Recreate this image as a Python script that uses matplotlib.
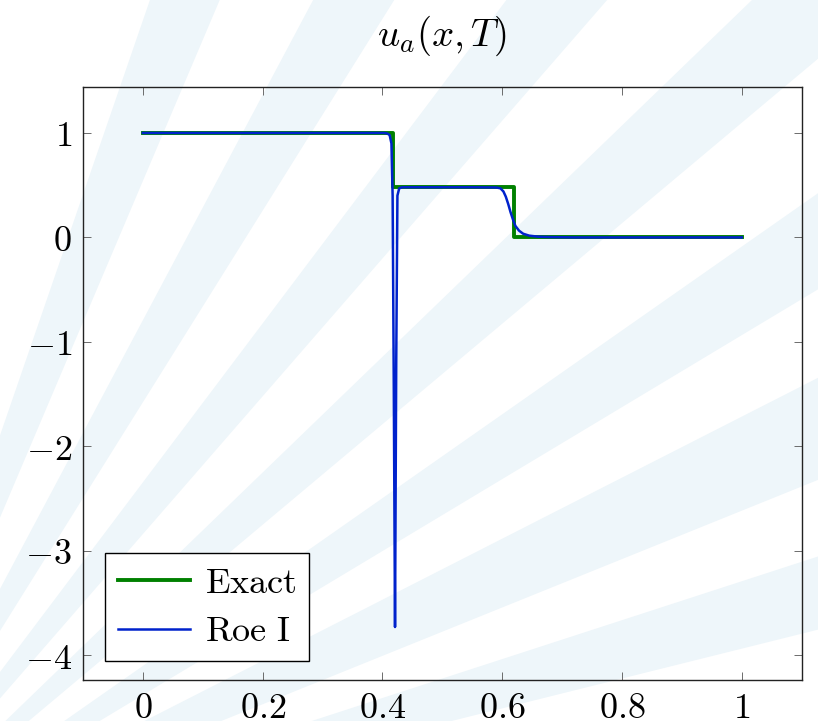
import numpy as np
import matplotlib
matplotlib.use("Agg")
import matplotlib.pyplot as plt
from matplotlib.patches import Polygon

plt.rcParams['mathtext.fontset'] = 'cm'
plt.rcParams['font.family'] = 'serif'
plt.rcParams['font.serif'] = ['DejaVu Serif']

# exact solution (piecewise constant)
exact_x = [0.0, 0.418, 0.418, 0.62, 0.62, 1.0]
exact_y = [1.0, 1.0, 0.486, 0.486, 0.0, 0.0]

# Roe I scheme
roe_x = [0.0, 0.403, 0.408, 0.412, 0.415, 0.417, 0.419, 0.421, 0.423, 0.425,
         0.428, 0.433, 0.45, 0.55, 0.59, 0.597, 0.602, 0.606, 0.610, 0.614,
         0.618, 0.622, 0.628, 0.635, 0.645, 0.66, 0.68, 0.72, 1.0]
roe_y = [1.0, 1.0, 0.995, 0.98, 0.9, 0.4, -1.5, -3.73, -1.2, 0.40,
         0.47, 0.48, 0.48, 0.48, 0.478, 0.47, 0.44, 0.39, 0.32, 0.24,
         0.17, 0.11, 0.065, 0.035, 0.017, 0.007, 0.003, 0.0, 0.0]

xticks = [0, 0.2, 0.4, 0.6, 0.8, 1]
xlabels = ['$0$', '$0.2$', '$0.4$', '$0.6$', '$0.8$', '$1$']
yticks = [-4, -3, -2, -1, 0, 1]
ylabels = ['$-4$', '$-3$', '$-2$', '$-1$', '$0$', '$1$']

fig = plt.figure(figsize=(8.18, 7.21), dpi=100)
fig.patch.set_facecolor('white')

# faint background rays
src = (-1.5, -1.5)
angles = [(14, 18), (22, 27), (31, 35), (40, 44), (49, 53), (58, 62), (67, 71)]
for a0, a1 in angles:
    r = 30
    p0 = (src[0] + r*np.cos(np.radians(a0)), src[1] + r*np.sin(np.radians(a0)))
    p1 = (src[0] + r*np.cos(np.radians(a1)), src[1] + r*np.sin(np.radians(a1)))
    fig.patches.append(Polygon([src, p0, p1], closed=True, transform=fig.dpi_scale_trans,
                               facecolor='#eef6fa', edgecolor='none', zorder=-10))

ax = fig.add_axes([0.1015, 0.0569, 0.8785, 0.822])
ax.set_facecolor('none')

ax.plot(exact_x, exact_y, color='#008000', lw=2.8, label=r'$\mathrm{Exact}$', zorder=3)
ax.plot(roe_x, roe_y, color='#0022cc', lw=1.8, label=r'$\mathrm{Roe\ I}$', zorder=4)

ax.set_xlim(-0.1, 1.1)
ax.set_ylim(-4.237, 1.437)
ax.set_xticks(xticks)
ax.set_xticklabels(xlabels)
ax.set_yticks(yticks)
ax.set_yticklabels(ylabels)
ax.tick_params(direction='in', top=True, right=True, length=6, width=0.6,
               color='#555555', labelsize=26, pad=8)
for s in ax.spines.values():
    s.set_linewidth(1.0)
    s.set_color('#222222')

ax.set_title(r'$u_a(x,T)$', fontsize=28, pad=30)

leg = ax.legend(loc='lower left', bbox_to_anchor=(0.031, 0.032), borderaxespad=0,
                fontsize=26, fancybox=False, framealpha=1, edgecolor='black',
                handlelength=2.0, handletextpad=0.4, borderpad=0.35, labelspacing=0.4)
leg.get_frame().set_linewidth(1.0)

fig.savefig('out.png', dpi=100)
